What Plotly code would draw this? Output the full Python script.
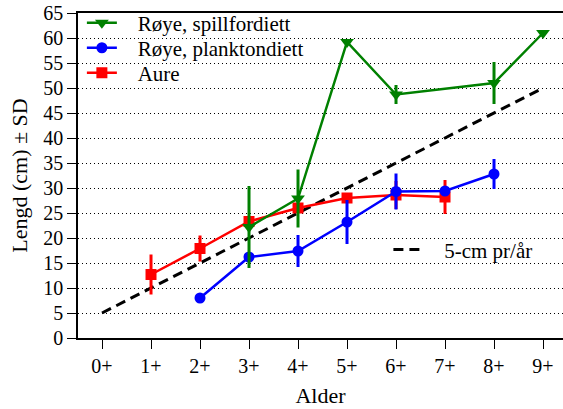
import plotly.graph_objects as go

ages = [0, 1, 2, 3, 4, 5, 6, 7, 8, 9]
age_labels = ["0+", "1+", "2+", "3+", "4+", "5+", "6+", "7+", "8+", "9+"]

aure_x = [1, 2, 3, 4, 5, 6, 7]
aure_y = [12.7, 17.9, 23.3, 26.0, 28.0, 28.6, 28.2]
aure_sd = [4.0, 2.6, 0.8, 0.8, 0.8, 2.8, 3.4]

plank_x = [2, 3, 4, 5, 6, 7, 8]
plank_y = [8.0, 16.2, 17.4, 23.2, 29.3, 29.4, 32.8]
plank_sd = [0, 0, 3.2, 4.4, 3.6, 0, 3.0]

spill_x = [3, 4, 5, 6, 8, 9]
spill_y = [22.2, 27.9, 59.2, 48.7, 51.0, 61.0]
spill_sd = [8.2, 5.8, 0, 1.9, 4.2, 0]

ref_y = [5 * (a + 1) for a in ages]

FONT = "'Liberation Serif', 'Times New Roman', Times, 'DejaVu Serif', serif"
LEG_FONT = dict(family=FONT, size=21, color="black")
PAD = "\u00a0\u00a0\u00a0"

fig = go.Figure()

fig.add_trace(go.Scatter(
    x=ages, y=ref_y, mode="lines", name=PAD + "5-cm pr/år",
    line=dict(color="black", width=3, dash="10px,6px"),
    legend="legend4"))

fig.add_trace(go.Scatter(
    x=aure_x, y=aure_y, mode="lines+markers", name=PAD + "Aure",
    line=dict(color="#ff0000", width=2.5),
    marker=dict(symbol="square", size=11, color="#ff0000"),
    error_y=dict(type="data", array=aure_sd, visible=True, color="#ff0000",
                 thickness=3, width=0),
    legend="legend3"))

fig.add_trace(go.Scatter(
    x=plank_x, y=plank_y, mode="lines+markers", name=PAD + "Røye, planktondiett",
    line=dict(color="#0000ff", width=2.5),
    marker=dict(symbol="circle", size=11, color="#0000ff"),
    error_y=dict(type="data", array=plank_sd, visible=True, color="#0000ff",
                 thickness=3, width=0),
    legend="legend2"))

fig.add_trace(go.Scatter(
    x=spill_x, y=spill_y, mode="lines+markers", name=PAD + "Røye, spillfordiett",
    line=dict(color="#008000", width=2.5),
    marker=dict(symbol="triangle-down", size=12, color="#008000"),
    error_y=dict(type="data", array=spill_sd, visible=True, color="#008000",
                 thickness=3, width=0),
    legend="legend"))


def leg(x, y):
    return dict(x=x, y=y, xanchor="left", yanchor="middle",
                bgcolor="rgba(0,0,0,0)", font=LEG_FONT)


fig.update_layout(
    width=563, height=409,
    margin=dict(l=78, r=0, t=13, b=71),
    paper_bgcolor="white", plot_bgcolor="white",
    font=dict(family=FONT, size=20, color="black"),
    showlegend=True,
    legend=leg(0.008, 0.969),
    legend2=leg(0.008, 0.892),
    legend3=leg(0.008, 0.815),
    legend4=leg(0.640, 0.271),
    xaxis=dict(
        range=[-0.49, 9.408], tickmode="array", tickvals=ages, ticktext=age_labels,
        showline=True, linecolor="black", linewidth=1.5, mirror=True,
        ticks="outside", ticklen=9, tickcolor="black", tickwidth=1,
        showgrid=False, zeroline=False,
        tickfont=dict(family=FONT, size=20),
        title=dict(text="Alder", font=dict(family=FONT, size=22), standoff=12)),
    yaxis=dict(
        range=[0, 65], tickmode="linear", tick0=0, dtick=5,
        showline=True, linecolor="black", linewidth=1.5,
        ticks="outside", ticklen=9, tickcolor="black", tickwidth=1,
        showgrid=True, gridcolor="black", gridwidth=1, griddash="1px,3px",
        zeroline=False,
        tickfont=dict(family=FONT, size=20),
        title=dict(text="Lengd (cm) ± SD", font=dict(family=FONT, size=22), standoff=10)),
)

fig.write_html("out.html")
